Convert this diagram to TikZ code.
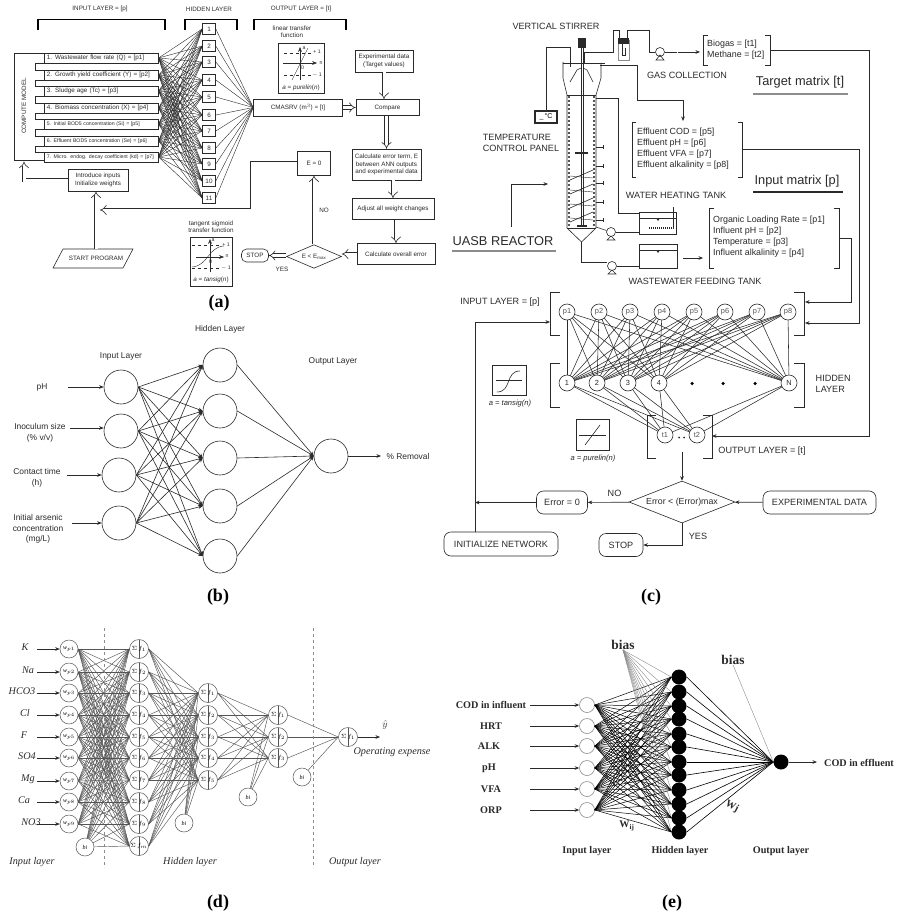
\documentclass[tikz,border=0pt]{standalone}
\usepackage{fontspec}
\setmainfont{Liberation Sans}
\newfontfamily\serifface{Liberation Serif}
\usetikzlibrary{arrows.meta,shapes.geometric}
\definecolor{inkdark}{HTML}{2A2A2A}
\definecolor{inkmid}{HTML}{555555}
\definecolor{inkpale}{HTML}{8C8C8C}
% square brackets round a group: left x, top y, right x, bottom y, stub
\newcommand{\groupbrackets}[5]{%
  \draw[wire] (#1+#5,#2) -- (#1,#2) -- (#1,#4) -- (#1+#5,#4);
  \draw[wire] (#3-#5,#2) -- (#3,#2) -- (#3,#4) -- (#3-#5,#4);}
\begin{document}
\begin{tikzpicture}[
    x=1pt, y=-1pt,
    wire/.style={draw=inkdark, line width=0.6pt},
    thinwire/.style={draw=inkdark, line width=0.4pt},
    flow/.style={wire, -{Stealth[length=4.5pt,width=3.6pt]}},
    dpipe/.style={draw=inkdark, double=white, double distance=3pt, line width=0.6pt, -{Implies}},
    box/.style={draw=inkdark, line width=0.6pt, fill=white, inner sep=0pt},
    tiny/.style={font=\fontsize{6.3}{7.4}\selectfont, text=inkdark, align=center, inner sep=0pt},
    smallest/.style={font=\fontsize{5.2}{6}\selectfont, text=inkdark, align=center, inner sep=0pt},
    small/.style={font=\fontsize{8.4}{10.5}\selectfont, text=inkdark, align=center, inner sep=0pt},
    mid/.style={font=\fontsize{9.1}{10.6}\selectfont, text=inkdark, align=left, inner sep=0pt},
    listing/.style={mid, anchor=west, font=\fontsize{8.9}{10.9}\selectfont},
    big/.style={font=\fontsize{12.8}{14}\selectfont, text=inkdark, inner sep=0pt},
    inbox/.style={box, minimum height=10pt, inner xsep=2.5pt, text width=109pt, align=left, anchor=west},
    plabel/.style={font=\serifface\bfseries\fontsize{18}{20}\selectfont, inner sep=0pt},
    bneuron/.style={circle, draw=inkdark, line width=0.6pt, fill=white, minimum size=34pt, inner sep=0pt},
    cneuron/.style={circle, draw=inkdark, line width=0.6pt, fill=white, minimum size=16pt, inner sep=0pt, font=\fontsize{7.4}{8}\selectfont, text=inkmid},
    rounded/.style={box, rounded corners=7pt, font=\fontsize{9.1}{10}\selectfont, text=inkdark},
    pump/.style={circle, draw=inkdark, line width=0.6pt, fill=white, minimum size=9pt, inner sep=0pt},
    ditalic/.style={font=\serifface\itshape\fontsize{10.2}{11}\selectfont, text=inkdark, inner sep=0pt},
    dneuron/.style={circle, draw=inkmid, line width=0.5pt, fill=white, minimum size=18pt, inner sep=0pt, font=\serifface\itshape\fontsize{6}{7}\selectfont},
    sumnode/.style={dneuron, minimum size=19pt, font=\fontsize{6}{7}\selectfont,
      path picture={\draw[inkmid, line width=0.5pt] (path picture bounding box.north) -- (path picture bounding box.south);}},
    dline/.style={draw=inkmid, line width=0.45pt},
    ebold/.style={font=\serifface\bfseries\fontsize{10.2}{11}\selectfont, text=inkdark, inner sep=0pt},
    etitle/.style={ebold, font=\serifface\bfseries\fontsize{13.4}{15}\selectfont},
    ewhite/.style={circle, draw=inkpale, line width=0.6pt, fill=white, minimum size=15pt, inner sep=0pt},
    eblack/.style={circle, fill=black, minimum size=15pt, inner sep=0pt},
  ]
  \useasboundingbox (0,0) rectangle (898,915);
  \fill[white] (0,0) rectangle (898,915);

  % ================= panel (a): flowchart of the training loop
  \node[tiny] (ainhead) at (100,9) {INPUT LAYER = [p]};
  \node[tiny] (ahidhead) at (209,9) {HIDDEN LAYER};
  \node[tiny] (aouthead) at (301,9) {OUTPUT LAYER = [t]};
  % header brackets
  \draw[draw=black, line width=1.5pt] (38,30) -- (38,19.5) -- (165,19.5) -- (165,30);
  \draw[draw=black, line width=1.5pt] (185,30) -- (185,19.5) -- (237,19.5) -- (237,30);
  \draw[draw=black, line width=1.5pt] (254,30) -- (254,19.5) -- (346,19.5) -- (346,30);
  % compute model comb
  \draw[wire] (44,53) -| (14,160) -- (44,160);
  \foreach \a/\b in {63/70,80/86,96/103,113/119,129/136,146/152} {
    \draw[wire] (44,\a) -- (35,\a) -- (35,\b) -- (44,\b);
  }
  \node[tiny, rotate=90] (acompute) at (24,106) {COMPUTE MODEL};
  % input boxes
  \foreach \y/\txt [count=\n] in {
      58/{1. Wastewater flow rate (Q) = [p1]},
      75/{2. Growth yield coefficient (Y) = [p2]},
      91/{3. Sludge age (Tc) = [p3]},
      108/{4. Biomass concentration (X) = [p4]}} {
    \node[tiny, inbox] (ain\n) at (44,\y) {\txt};
  }
  \foreach \y/\txt [count=\n from 5] in {
      124/{5. Initial BOD5 concentration (Si) = [p5]},
      141/{6. Effluent BOD5 concentration (Se) = [p6]},
      157/{7. Micro. endog. decay coefficient (kd) = [p7]}} {
    \node[smallest, inbox] (ain\n) at (44,\y) {\txt};
  }
  % hidden squares
  \foreach \y [count=\n] in {29,46,62,80,97,115,131,148,164,181,198} {
    \node[box, tiny, minimum width=13pt, minimum height=11pt] (ahid\n) at (209,\y) {\n};
  }
  \node[box, tiny, minimum width=89pt, minimum height=17pt] (acmasrv) at (298,107.5) {CMASRV (m$^{3}$) = [t]};
  \foreach \a in {1,...,7} {
    \foreach \b in {1,...,11} {
      \draw[thinwire] (ain\a.east) -- (ahid\b.west);
    }
  }
  \foreach \b in {1,...,11} {
    \draw[thinwire] (ahid\b.east) -- (acmasrv.west);
  }
  % linear transfer inset
  \node[tiny] (alinear) at (292,32) {linear transfer\\function};
  \node[box, minimum width=46pt, minimum height=50pt] (alinbox) at (301,68) {};
  \draw[thinwire, dashed] (284,53) -- (312,53);
  \draw[thinwire, dashed] (284,75) -- (312,75);
  \draw[thinwire, ->, >=Stealth] (283,63) -- (317,63);
  \draw[thinwire, ->, >=Stealth] (300,80) -- (300,47);
  \draw[thinwire] (292,80) -- (308,48);
  \node[smallest] (alina) at (304,48) {a};
  \node[smallest] (alinp) at (317,52) {+ 1};
  \node[smallest] (alinn) at (321,63) {n};
  \node[smallest] (alinm) at (317,75) {$-$ 1};
  \node[smallest] (alinz) at (302.5,68) {0};
  \node[tiny] (alinlab) at (301,87.5) {\textit{a} = \textit{purelin}(\textit{n})};
  % tangent sigmoid inset
  \node[tiny] (atangent) at (211,227) {tangent sigmoid\\transfer function};
  \node[box, minimum width=42pt, minimum height=49pt] (atanbox) at (211,261.5) {};
  \draw[thinwire, dashed] (192,245) -- (220,245);
  \draw[thinwire, dashed] (192,268) -- (220,268);
  \draw[thinwire, ->, >=Stealth] (196,257) -- (224,257);
  \draw[thinwire, ->, >=Stealth] (210,272) -- (210,239);
  \draw[thinwire] (192,267) .. controls (208,266) and (208,247) .. (224,246);
  \node[smallest] (atana) at (213,240.5) {a};
  \node[smallest] (atanp) at (226,244.5) {+ 1};
  \node[smallest] (atann) at (227,256.5) {n};
  \node[smallest] (atanm) at (226,268.5) {$-$ 1};
  \node[smallest] (atanz) at (210.5,262) {0};
  \node[tiny] (atanlab) at (211,280) {\textit{a} = \textit{tansig}(\textit{n})};
  % flowchart boxes
  \node[box, tiny, minimum width=58pt, minimum height=22pt] (aexp) at (384,61) {Experimental data\\(Target values)};
  \node[box, tiny, minimum width=63pt, minimum height=16pt] (acompare) at (387.5,107.5) {Compare};
  \node[box, tiny, minimum width=69pt, minimum height=31pt] (acalc) at (386.5,164.5) {Calculate error term, E\\between ANN outputs\\and experimental data};
  \node[box, tiny, minimum width=82pt, minimum height=21pt] (aadjust) at (393,209) {Adjust all weight changes};
  \node[box, tiny, minimum width=78pt, minimum height=21pt] (aoverall) at (396,254) {Calculate overall error};
  \node[diamond, draw=inkdark, line width=0.6pt, fill=white, aspect=1.34, minimum width=55pt, inner sep=0pt, tiny] (adiam) at (314,256.5) {E < E$_{\mathrm{max}}$};
  \node[box, tiny, rounded corners=5pt, minimum width=27pt, minimum height=13pt] (astop) at (255,255.5) {STOP};
  \node[box, tiny, minimum width=33pt, minimum height=24pt] (azero) at (314,163) {E = 0};
  \node[box, tiny, minimum width=60pt, minimum height=22pt] (aintro) at (98,180) {Introduce inputs\\Initialize weights};
  \draw[wire] (63,249) -- (133,249) -- (123,268) -- (53,268) -- cycle;
  \node[tiny, minimum height=19pt] (astart) at (96,258.5) {START PROGRAM};
  \node[tiny] (ano) at (324,210) {NO};
  \node[tiny] (ayes) at (282,269) {YES};
  \coordinate (acompin) at (24,161.5);
  \coordinate (ajoin) at (100,210);
  % double arrows
  \draw[dpipe] (aexp) -- (acompare.north -| aexp);
  \draw[dpipe] (acmasrv) -- (acompare);
  \draw[dpipe] (acompare.south -| acalc) -- (acalc.north);
  \draw[dpipe] (acalc.south -| aadjust) -- (aadjust.north);
  \draw[dpipe] (aadjust.south -| aoverall) -- (aoverall.north);
  \draw[dpipe] (aoverall.west) -- (adiam.east |- aoverall);
  \draw[dpipe] (adiam.west |- astop) -- (astop.east);
  \draw[dpipe] (adiam.north) -- (azero.south);
  \draw[dpipe] (astart.north) -- (aintro.south -| astart);
  \draw[dpipe] (aintro.west) -| (acompin);
  \draw[dpipe] (azero.west) -- +(-45,0) |- (ajoin);
  \node[plabel] (alabel) at (219,303) {(a)};

  % ================= panel (b): small feed-forward net
  \foreach \y/\x [count=\n] in {387/121,431/121,475/119,523/119} {
    \node[bneuron] (bin\n) at (\x,\y) {};
  }
  \foreach \y [count=\n] in {365,411,458,506,556} {
    \node[bneuron] (bhid\n) at (220,\y) {};
  }
  \node[bneuron] (bout) at (331,456) {};
  \foreach \a in {1,...,4} {
    \foreach \b in {1,...,5} {
      \draw[flow] (bin\a.east) -- (bhid\b.west);
    }
  }
  \foreach \b in {1,...,5} {
    \draw[flow] (bhid\b.east) -- (bout.west);
  }
  \node[small] (bph) at (42,387) {pH};
  \node[small] (binoc) at (40,433) {Inoculum size\\(\% v/v)};
  \node[small] (bcontact) at (37,478) {Contact time\\(h)};
  \node[small] (barsenic) at (38,529) {Initial arsenic\\concentration\\(mg/L)};
  \node[small] (bremoval) at (408,456) {\% Removal};
  \node[small] (binhead) at (121,356) {Input Layer};
  \node[small] (bhidhead) at (220,329) {Hidden Layer};
  \node[small] (bouthead) at (333,361) {Output Layer};
  \coordinate (bst1) at (68,387);
  \coordinate (bst2) at (70,428);
  \coordinate (bst3) at (67,475);
  \coordinate (bst4) at (72,523);
  \coordinate (bend) at (381,456);
  \foreach \n in {1,...,4} { \draw[flow] (bst\n) -- (bin\n.west |- bst\n); }
  \draw[flow] (bout.east) -- (bend);
  \node[plabel] (blabel) at (218,597) {(b)};

  % ================= panel (c): reactor, tanks and network
  \node[mid] (cstirrer) at (556,26) {VERTICAL STIRRER};
  \node[mid] (cgas) at (687,75) {GAS COLLECTION};
  \node[mid] (ctemp) at (521,143) {TEMPERATURE\\CONTROL PANEL};
  \node[mid] (cheat) at (676,195) {WATER HEATING TANK};
  \node[mid] (cfeed) at (695,281) {WASTEWATER FEEDING TANK};
  \node[big] (ctarget) at (800,82) {Target matrix [t]};
  \node[big] (cinput) at (797,181) {Input matrix [p]};
  \node[big] (cuasb) at (503,241) {UASB REACTOR};
  \draw[draw=inkpale, line width=1.6pt] (753,94) -- (848,94);
  \draw[draw=inkdark, line width=1.2pt] (753,192) -- (843,192);
  \draw[draw=inkpale, line width=1.6pt] (452,251) -- (556,251);
  % reactor column, cones and shaft
  \fill[inkdark] (578,38) rectangle (586,48);
  \draw[wire] (567,228) -- (567,95) -- (563,78) -- (563,62);
  \draw[wire] (596,228) -- (596,95) -- (601,78) -- (601,63);
  \draw[wire] (567,95) -- (596,95);
  \draw[wire] (567,228) -- (596,228);
  \draw[wire] (567,228) -- (581.5,242) -- (596,228);
  \draw[wire] (570,82) -- (577,70) -- (581,68);
  \draw[wire] (593,82) -- (587,70) -- (583,68);
  \draw[wire] (581,48) -- (581,225);
  \draw[wire] (583,48) -- (583,225);
  \draw[inkmid, line width=1.6pt, dash pattern=on 2pt off 2pt] (569,96) -- (569,227);
  \draw[inkmid, line width=1.6pt, dash pattern=on 2pt off 2pt] (594,96) -- (594,227);
  \draw[line width=1.2pt, inkdark] (575,153) -- (588,153);
  \draw[line width=1.2pt, inkdark] (577,226) -- (587,226);
  % heating coil
  \foreach \y in {180,194,208,222} {
    \draw[wire] (570,\y) -- (593,\y-10);
    \draw[thinwire] (570,\y-4) -- (593,\y-2);
  }
  % sampling taps
  \foreach \y in {147,166,183,202,220} {
    \draw[wire] (596,\y) -- (603,\y);
    \draw[wire] (603,\y-2) -- (603,\y+2);
  }
  % temperature panel
  \node[box, line width=1.1pt, minimum width=22pt, minimum height=12pt, font=\fontsize{7}{8}\selectfont] (cpanel) at (546,117) {\_\,°C};
  \coordinate (cprobe) at (570,67);
  \draw[wire] (cpanel.north) |- (570,47) -- (cprobe);
  % gas line with bubbler
  \draw[wire, line width=0.9pt] (584,63) -- (584,52) -- (613,52) -- (613,30) -- (619,30) -- (619,38);
  \draw[wire, line width=0.9pt] (627,38) -- (627,30) -- (649,30) -- (649,52) -- (655,52);
  \draw[draw=inkpale, line width=0.6pt] (618,40) rectangle (629,60);
  \fill[inkdark] (618,38) rectangle (629,44);
  \draw[wire] (622,44) -- (622,55) -- (625,55) -- (625,48);
  \node[pump] (cpumpa) at (660,52) {};
  \draw[wire] (656,60) -- (664,60) -- (660,55) -- cycle;
  \draw[wire] (cpumpa) -- (677,52);
  \coordinate (cgasend) at (678,52);
  \coordinate (cbiogasin) at (700,52);
  \draw[flow] (cgasend) -- (cbiogasin);
  % effluent sampling line
  \coordinate (ceffst) at (600,65);
  \coordinate (ceffin) at (683,121);
  \draw[wire] (563,63) -- (605,63);
  \draw[flow] (ceffst) -- (637,65) -- (637,100) -| (ceffin);
  % heating tank and feeding tank
  \node[box, draw=inkdark, minimum width=37pt, minimum height=22pt] (cheattank) at (657.5,223) {};
  \node[box, draw=inkdark, minimum width=38pt, minimum height=24pt] (cfeedtank) at (658,256) {};
  \draw[thinwire] (639,218) -- (676,218);
  \draw[thinwire] (639,250) -- (677,250);
  \fill[inkdark] (656,218) -- (660,218) -- (658,221) -- cycle;
  \fill[inkdark] (656,250) -- (660,250) -- (658,253) -- cycle;
  \draw[draw=inkdark, line width=1.4pt, dash pattern=on 1.2pt off 0.8pt] (649,228) -- (673,228);
  \draw[wire, line width=0.9pt] (673,207) -- (673,229);
  \draw[wire, line width=0.9pt] (596,98) -- (618,98) -- (618,213) -- (639,213);
  \node[pump] (cpumpb) at (611,232) {};
  \draw[wire] (607,240) -- (615,240) -- (611,236) -- cycle;
  \draw[wire] (596,227) -- (cpumpb);
  \draw[wire] (cpumpb) -- (cheattank.west |- cpumpb);
  \node[pump] (cpumpc) at (612,266) {};
  \draw[wire] (608,274) -- (616,274) -- (612,270) -- cycle;
  \draw[wire, line width=0.9pt] (581.5,242) -- (581.5,262) -- (607,262);
  \draw[wire] (cpumpc) -- (cfeedtank.west |- cpumpc);
  \coordinate (cfeedst) at (683,258);
  \coordinate (cfeedin) at (703,258);
  \draw[flow] (cfeedst) -- (cfeedin);
  % data lists in brackets
  \groupbrackets{703}{35}{770}{65}{5}
  \node[listing] (cbiogas) at (707,50) {Biogas = [t1]\\Methane = [t2]};
  \groupbrackets{632}{122}{742}{177}{4}
  \node[listing] (ceffl) at (637,149) {Effluent COD = [p5]\\Effluent pH = [p6]\\Effluent VFA = [p7]\\Effluent alkalinity = [p8]};
  \groupbrackets{709}{208}{839}{268}{5}
  \node[listing] (cinfl) at (713,236.5) {Organic Loading Rate = [p1]\\Influent pH = [p2]\\Temperature = [p3]\\Influent alkalinity = [p4]};
  % reactor label arrow
  \coordinate (cuasbst) at (511,227);
  \coordinate (cuasbend) at (548,184);
  \draw[flow] (cuasbst) |- (cuasbend);
  % network layers
  \foreach \x [count=\n] in {567,599,630,662,694,725,757,788} {
    \coordinate (cp\n) at (\x,312);
  }
  \foreach \x/\t in {567/1,597/2,628/3,659/4,789/N} {
    \coordinate (ch\t) at (\x,383);
  }
  \coordinate (ct1) at (665,435);
  \coordinate (ct2) at (697,435);
  \foreach \n in {1,...,8} {
    \foreach \t in {1,2,3,4,N} {
      \draw[wire, line width=0.55pt] (cp\n) -- (ch\t);
    }
  }
  \foreach \t in {1,2,3,4,N} {
    \draw[wire, line width=0.55pt] (ch\t) -- (ct1);
    \draw[wire, line width=0.55pt] (ch\t) -- (ct2);
  }
  \foreach \n in {1,...,8} { \node[cneuron] (cpn\n) at (cp\n) {p\n}; }
  \foreach \t in {1,2,3,4,N} { \node[cneuron, text=inkdark] (chn\t) at (ch\t) {\t}; }
  \node[cneuron] (ctn1) at (ct1) {t1};
  \node[cneuron] (ctn2) at (ct2) {t2};
  \foreach \x [count=\n] in {692,723,755} {
    \node[circle, fill=black, minimum size=3.5pt, inner sep=0pt] (cdot\n) at (\x,383.5) {};
  }
  \node[circle, fill=inkdark, minimum size=2pt, inner sep=0pt] (cdota) at (679,437.5) {};
  \node[circle, fill=inkdark, minimum size=2pt, inner sep=0pt] (cdotb) at (684,437.5) {};
  \groupbrackets{550}{292}{804}{335}{10}
  \groupbrackets{550}{363}{804}{407}{10}
  \groupbrackets{647}{415}{712}{458}{9}
  \node[mid] (cinlayer) at (500,302) {INPUT LAYER = [p]};
  \node[mid, anchor=west] (chidlayer) at (815.5,384) {HIDDEN\\LAYER};
  \node[mid] (coutlayer) at (762,451) {OUTPUT LAYER = [t]};
  % transfer insets
  \node[box, line width=0.7pt, minimum width=34pt, minimum height=30pt] (ctanbox) at (509,380) {};
  \draw[wire] (496,380) -- (522,380);
  \draw[wire] (497,392) .. controls (512,392) and (505,371) .. (520,371);
  \node[mid, font=\itshape\fontsize{7.6}{8}\selectfont, anchor=center] (ctanlab) at (510,404) {a = tansig(n)};
  \node[box, line width=0.7pt, minimum width=33pt, minimum height=31pt] (cpurebox) at (592.5,435) {};
  \draw[wire] (579,435) -- (606,435);
  \draw[wire] (585,445) -- (600,425);
  \node[mid, font=\itshape\fontsize{7.6}{8}\selectfont, anchor=center] (cpurelab) at (593,459) {a = purelin(n)};
  % decision row
  \node[diamond, draw=inkdark, line width=0.6pt, fill=white, aspect=2.12, minimum width=106pt, inner sep=0pt, font=\fontsize{8.8}{10}\selectfont, text=inkdark] (cdiam) at (682,502) {Error < (Error)max};
  \node[rounded, minimum width=51pt, minimum height=23pt] (czero) at (562,502.5) {Error = 0};
  \node[rounded, minimum width=113pt, minimum height=23pt] (cexp) at (819.5,502.5) {EXPERIMENTAL DATA};
  \node[rounded, minimum width=114pt, minimum height=24pt] (cinit) at (501,544) {INITIALIZE NETWORK};
  \node[rounded, minimum width=44pt, minimum height=23pt] (cstop) at (621,545) {STOP};
  \node[mid] (cno) at (614.5,493) {NO};
  \node[mid] (cyes) at (698,536) {YES};
  \coordinate (coutdown) at (682,452);
  \draw[flow] (coutdown) -- (cdiam.north);
  \draw[flow] (cexp) -- (cdiam);
  \draw[flow] (cdiam) -- (czero);
  \draw[flow] (cdiam.south) |- (cstop);
  \coordinate (cfeedback) at (475,502.5);
  \coordinate (cinbr) at (550,322);
  \draw[flow] (czero) -- (cfeedback);
  \draw[flow] (cinit.north -| cfeedback) |- (cinbr);
  % matrices into the network
  \coordinate (cbioout) at (770,50);
  \coordinate (ceffout) at (742,149);
  \coordinate (cinflout) at (839,238);
  \coordinate (coutin) at (712,436);
  \coordinate (cinbra) at (805,323);
  \coordinate (cinbrb) at (805,302);
  \draw[flow] (cbioout) -- +(99,0) |- (coutin);
  \draw[flow] (ceffout) -- +(117,0) |- (cinbra);
  \draw[flow] (cinflout) -- +(12,0) |- (cinbrb);
  \node[plabel] (clabel) at (651,597) {(c)};

  % ================= panel (d): deep net with bias nodes
  \foreach \y/\t/\tx [count=\n] in {649/K/25,672/Na/28,693/HCO3/22,715/Cl/25,737/F/24,758/SO4/27,781/Mg/28,802/Ca/24,824/NO3/31} {
    \node[dneuron] (din\n) at (69,\y) {w$_{p\n}$};
    \node[ditalic] (dtag\n) at (\tx,\y-1.5) {\t};
    \coordinate (dst\n) at (37,\y);
    \draw[flow, line width=0.5pt] (dst\n) -- (din\n.west);
  }
  \node[dneuron] (dba) at (85,847) {bi};
  \foreach \y [count=\n] in {649,672,693,715,737,758,780,802,824} {
    \node[sumnode] (dha\n) at (139,\y) {$\Sigma\,f_{\n}$};
  }
  \node[sumnode] (dha10) at (139,846) {$\Sigma\,f_{m}$};
  \node[dneuron] (dbb) at (184,823) {bi};
  \foreach \y [count=\n] in {693,715,737,758,780} {
    \node[sumnode] (dhb\n) at (208,\y) {$\Sigma\,f_{\n}$};
  }
  \node[dneuron] (dbc) at (248,797) {bi};
  \foreach \y [count=\n] in {715,737,758} {
    \node[sumnode] (dhc\n) at (278,\y) {$\Sigma\,f_{\n}$};
  }
  \node[dneuron] (dbd) at (302,777) {bi};
  \node[sumnode] (dout) at (348,737) {$\Sigma\,f_{1}$};
  \foreach \b in {1,...,10} {
    \foreach \a in {1,...,9} { \draw[dline] (din\a.east) -- (dha\b.west); }
    \draw[dline] (dba) -- (dha\b.west);
    \foreach \c in {1,...,5} { \draw[dline] (dha\b.east) -- (dhb\c.west); }
  }
  \foreach \c in {1,...,5} {
    \draw[dline] (dbb) -- (dhb\c.west);
    \foreach \e in {1,2,3} { \draw[dline] (dhb\c.east) -- (dhc\e.west); }
  }
  \foreach \e in {1,2,3} {
    \draw[dline] (dbc) -- (dhc\e.west);
    \draw[dline] (dhc\e.east) -- (dout.west);
  }
  \draw[dline] (dbd) -- (dout.west);
  \coordinate (dend) at (380,737);
  \draw[flow, line width=0.5pt] (dout.east) -- (dend);
  \node[ditalic] (dyhat) at (385,725) {$\hat{y}$};
  \node[ditalic] (dexpense) at (392,752) {Operating expense};
  \node[ditalic] (dinlayer) at (32,862) {Input layer};
  \node[ditalic] (dhidlayer) at (190,862) {Hidden layer};
  \node[ditalic] (doutlayer) at (355,862) {Output layer};
  \draw[draw=inkpale, line width=0.9pt, dashed] (104,628) -- (104,868);
  \draw[draw=inkpale, line width=0.9pt, dashed] (313,628) -- (313,868);
  \node[plabel] (dlabel) at (218,903) {(d)};

  % ================= panel (e): one hidden layer, solid nodes
  \node[etitle] (ebiasa) at (623,645) {bias};
  \node[etitle] (ebiasb) at (733,660) {bias};
  \foreach \y/\t/\tx [count=\n] in {705/COD in influent/491,726/HRT/491,746/ALK/489,768/pH/489,789/VFA/491,810/ORP/491} {
    \node[ewhite] (ein\n) at (587,\y) {};
    \node[ebold] (etag\n) at (\tx,\y) {\t};
    \coordinate (est\n) at (530,\y);
    \draw[flow, line width=0.9pt] (est\n) -- (ein\n.west);
  }
  \foreach \y [count=\n] in {677,692,706,719,734,747,762,775,790,804,818,832} {
    \node[eblack] (ehid\n) at (679,\y) {};
  }
  \node[eblack] (eout) at (781,762) {};
  \foreach \b in {1,...,12} {
    \draw[draw=inkpale, line width=0.4pt] (ebiasa.south) -- (ehid\b.west);
    \foreach \a in {1,...,6} {
      \draw[draw=black, line width=0.5pt] (ein\a.east) -- (ehid\b.west);
    }
    \draw[draw=black, line width=0.6pt] (ehid\b.east) -- (eout.west);
  }
  \draw[draw=inkpale, line width=0.4pt] (ebiasb.south) -- (eout.west);
  \node[ebold] (eeffl) at (859,763) {COD in effluent};
  \coordinate (eend) at (817,762);
  \draw[flow, line width=0.9pt] (eout.east) -- (eend);
  \node[ebold] (ewij) at (627,826) {W\textsubscript{ij}};
  \node[ebold, rotate=-28] (ewj) at (732,807) {Wj};
  \node[ebold] (einlayer) at (587,851) {Input layer};
  \node[ebold] (ehidlayer) at (680,851) {Hidden layer};
  \node[ebold] (eoutlayer) at (781,851) {Output layer};
  \node[plabel] (elabel) at (672,903) {(e)};
\end{tikzpicture}
\end{document}
